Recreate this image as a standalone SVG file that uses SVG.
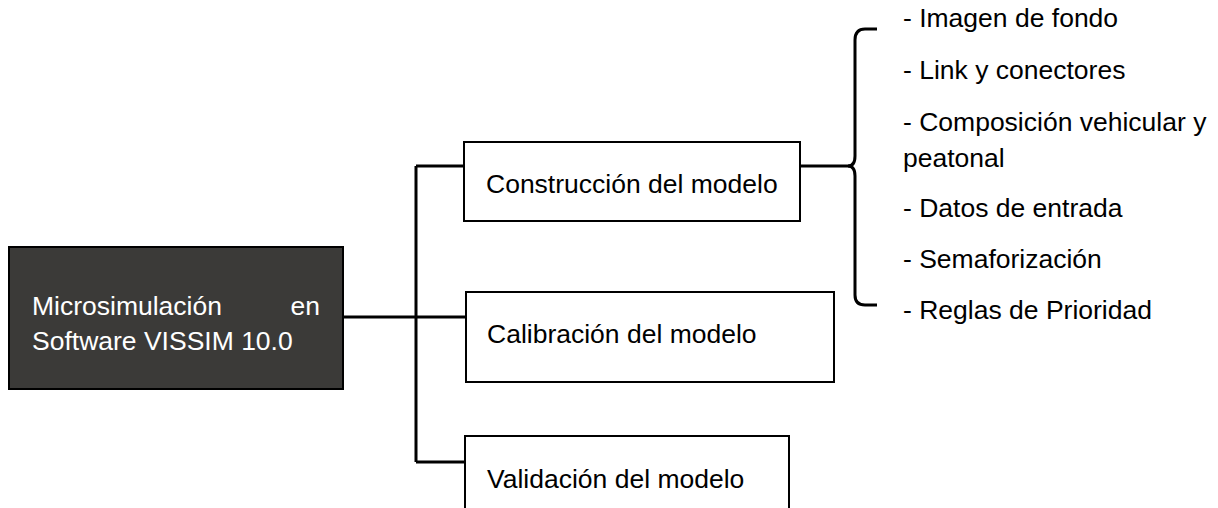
<svg xmlns="http://www.w3.org/2000/svg" width="1218" height="508" viewBox="0 0 1218 508">
<style>
.box{fill:#fff;stroke:#000;stroke-width:2}
.t{font-family:"Liberation Sans",Arial,sans-serif;font-size:26.5px;fill:#000}
.w{fill:#fff}
.c{fill:none;stroke:#000;stroke-width:3}
</style>
<rect width="1218" height="508" fill="#fff"/>
<g id="connectors">
<path class="c" d="M343 317 H466"/>
<path class="c" d="M416 166 V462"/>
<path class="c" d="M416 166 H464"/>
<path class="c" d="M416 462 H465"/>
<path class="c" d="M766 166 H850"/>
<path class="c" d="M877 29 H865 Q855 29 855 40 V156 Q855 166 848 166 Q855 166 855 176 V295 Q855 305 865 305 H877"/>
</g>
<g id="main">
<rect x="9" y="247" width="334" height="142" fill="#3b3a38" stroke="#000" stroke-width="2"/>
<text class="t w" x="32" y="315">Microsimulación</text>
<text class="t w" x="320" y="315" text-anchor="end">en</text>
<text class="t w" x="32" y="350">Software VISSIM 10.0</text>
</g>
<g id="construccion">
<rect class="box" x="464" y="142" width="336" height="79"/>
<text class="t" x="486" y="193">Construcción del modelo</text>
</g>
<g id="calibracion">
<rect class="box" x="466" y="292" width="368" height="90"/>
<text class="t" x="487" y="343">Calibración del modelo</text>
</g>
<g id="validacion">
<rect class="box" x="465" y="436" width="324" height="80"/>
<text class="t" x="487" y="488">Validación del modelo</text>
</g>
<g id="lista">
<text class="t" x="903" y="27">- Imagen de fondo</text>
<text class="t" x="903" y="79">- Link y conectores</text>
<text class="t" x="903" y="131">- Composición vehicular y</text>
<text class="t" x="903" y="167">peatonal</text>
<text class="t" x="903" y="217">- Datos de entrada</text>
<text class="t" x="903" y="268">- Semaforización</text>
<text class="t" x="903" y="319">- Reglas de Prioridad</text>
</g>
</svg>
